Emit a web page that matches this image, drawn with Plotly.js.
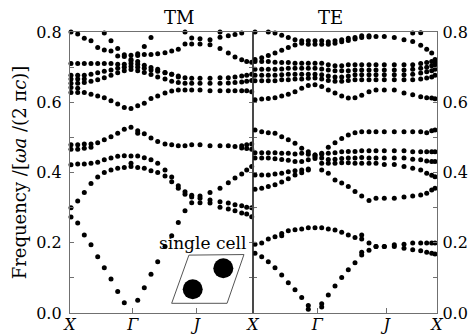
<!DOCTYPE html>
<html><head><meta charset="utf-8">
<script src="https://cdn.plot.ly/plotly-3.0.1.min.js"></script>
<style>html,body{margin:0;padding:0;background:#fff}#chart{width:470px;height:336px}</style>
</head><body><div id="chart"></div>
<script>
// k-path sample positions (path-length units) for each panel
const kTM = [1,7.7,14.3,21,27.7,34.3,41,47.7,54.3,61,67.7,74.3,81,87.7,95,101.7,108.3,115,121.7,130,140,150,158.3,165,171.7,176.7,181.7];
const kTE = [2,8.7,15.3,22,28.7,35.3,42,48.7,55.3,62,68.7,75.3,82,88.7,95.3,102,108.7,116,123,131.3,141.3,151,159.7,167.7,173.7,178.7,182];
// high-symmetry tick positions and labels
const tickPosTM = [0, 62.7, 126.7, 183];
const tickTextTM = ['X', 'Γ', 'J', 'X'];
const tickPosTE = [64.3, 133.7, 184];
const tickTextTE = ['Γ', 'J', 'X'];
const freqTicks = [0, 0.1, 0.2, 0.3, 0.4, 0.5, 0.6, 0.7, 0.8];
const freqLabels = ['0.0', '', '0.2', '', '0.4', '', '0.6', '', '0.8'];
const panelTitles = ['TM', 'TE'];
const insetLabel = 'single cell';

// TM bands (normalized frequency)
const tm1 = [0.273,0.256,0.222,0.194,0.160,0.129,0.097,0.061,0.029,null,0.036,0.072,0.110,0.146,0.189,0.220,0.258,0.291,0.314,0.314,0.313,0.301,0.296,0.291,0.285,0.282,0.274];
const tm2 = [0.300,0.319,0.343,0.369,0.387,0.400,0.407,0.412,0.414,0.417,0.414,0.412,0.405,0.400,0.390,0.374,0.355,0.338,0.330,0.327,0.322,0.317,0.313,0.308,0.305,0.301,0.300];
const tm3 = [0.422,0.424,0.424,0.426,0.429,0.436,0.441,0.446,0.448,0.447,0.447,0.442,0.436,0.426,0.407,0.387,0.362,0.345,0.335,0.333,0.343,0.355,0.371,0.384,0.396,0.407,0.417];
const tm4 = [0.479,0.479,0.481,0.481,0.485,0.493,0.502,0.512,0.523,0.529,0.519,0.510,0.498,0.488,0.481,0.479,0.476,0.476,0.479,0.479,0.476,0.476,0.476,0.474,0.476,0.479,0.481];
const tm4b = [0.466,0.466,0.469,0.472,null,null,null,null,null,0.426,0.512,null,null,null,null,null,null,null,null,null,null,null,null,null,0.470,0.468,0.466];
const tm5 = [0.628,0.628,0.628,0.623,0.618,0.613,0.604,0.595,0.585,0.582,0.590,0.597,0.611,0.618,0.626,0.632,0.635,0.635,0.635,0.635,0.633,0.633,0.633,0.633,0.633,0.633,0.630];
const tm6 = [0.654,0.654,0.656,0.660,0.664,0.670,0.677,0.684,0.690,0.693,0.690,0.685,0.679,0.672,0.666,0.660,0.656,0.654,0.654,0.654,0.654,0.654,0.655,0.656,0.658,0.660,0.662];
const tm7 = [0.677,0.677,0.677,0.680,0.684,0.688,0.692,0.697,0.700,0.702,0.700,0.697,0.692,0.688,0.684,0.680,0.675,0.670,0.668,0.668,0.668,0.670,0.670,0.672,0.675,0.677,0.680];
const tm8 = [0.710,0.710,0.710,0.710,0.710,0.710,0.710,0.708,0.708,0.710,0.708,0.705,0.699,0.694,0.685,0.680,0.672,null,null,null,null,null,null,null,null,null,null];
const tm9 = [0.800,0.794,0.782,0.775,0.756,0.749,0.746,0.732,0.730,0.734,0.733,0.736,0.736,0.738,0.741,0.746,0.751,0.766,0.766,0.766,0.764,0.753,0.740,0.729,0.721,0.716,0.714];
const tm10 = [null,null,null,null,null,0.797,0.775,0.753,0.735,0.722,0.716,null,null,null,null,null,null,null,null,null,null,null,null,null,null,null,null];
const tm11 = [null,null,null,null,null,null,null,null,null,0.718,0.738,0.759,0.784,null,null,null,null,0.800,0.783,0.781,0.778,0.785,0.789,0.793,0.797,0.801,0.805];
const tm12 = [0.666,0.666,0.666,null,null,null,null,null,null,null,null,null,null,null,null,null,null,null,null,null,null,0.800,0.806,null,null,null,null];
const tm13 = [0.642,0.640,null,null,null,null,null,null,null,null,null,null,null,null,null,null,null,null,null,null,null,null,null,null,null,null,null];

// TE bands (normalized frequency)
const te1 = [0.170,0.160,0.146,0.129,0.108,0.086,0.066,0.044,0.011,null,0.017,0.051,0.077,0.101,0.123,0.143,0.165,0.179,0.189,0.189,0.189,0.184,0.180,0.177,0.173,0.170,0.168];
const te1b = [null,null,null,null,null,null,null,null,0.021,null,0.026,null,null,null,null,null,0.173,null,null,null,null,null,null,null,null,null,null];
const te2 = [0.196,0.199,0.211,0.217,0.220,0.234,0.237,0.239,0.243,0.243,0.243,0.239,0.236,0.230,0.222,0.215,0.211,0.199,0.189,0.189,0.194,0.196,0.199,0.199,0.199,0.199,0.199];
const te2b = [null,null,null,null,0.226,null,null,null,null,null,null,null,null,null,null,null,0.222,null,null,null,null,null,null,null,null,null,null];
const te3 = [0.352,0.355,0.360,0.365,0.373,0.382,0.393,0.399,0.407,0.440,0.407,0.398,0.379,0.370,0.360,0.346,0.333,0.320,0.327,0.327,0.327,0.330,0.333,0.336,0.341,0.350,0.355];
const te4 = [0.393,0.393,0.393,0.396,0.398,0.402,0.405,0.407,0.410,null,0.426,0.426,0.426,0.428,0.428,0.426,0.426,0.426,0.426,0.423,0.423,0.417,0.412,0.407,0.398,0.392,0.388];
const te5 = [0.456,0.456,0.456,0.456,0.455,0.455,0.453,0.455,0.452,0.450,0.452,0.455,0.456,0.459,0.460,0.460,0.462,0.462,0.462,0.462,0.462,0.462,0.459,0.459,0.459,0.459,0.459];
const te6 = [0.441,0.441,0.441,0.439,0.437,0.435,0.431,0.431,0.436,0.445,0.441,0.437,0.438,0.440,0.441,0.441,0.443,0.441,0.441,0.441,0.441,0.441,0.438,0.436,0.433,0.431,0.431];
const te7 = [0.521,0.516,0.513,0.512,0.502,0.493,0.483,0.469,0.459,0.450,0.455,0.472,0.485,0.497,0.507,0.513,0.516,0.516,0.516,0.516,0.516,0.516,0.516,0.516,0.513,0.519,0.521];
const te8 = [0.607,0.609,0.611,0.613,0.618,0.623,0.630,0.640,0.648,0.650,0.645,0.635,0.626,0.618,0.612,0.613,0.620,0.630,0.635,0.635,0.635,0.626,0.621,0.616,0.613,0.612,0.610];
const te9 = [0.661,0.661,0.661,0.661,0.664,0.664,0.666,0.666,0.668,0.669,0.666,0.662,0.660,0.660,0.662,0.664,0.664,0.664,0.664,0.664,0.664,0.664,0.664,0.666,0.669,0.672,0.677];
const te10 = [0.677,0.677,0.677,0.677,0.678,0.680,0.680,0.680,0.680,0.680,0.678,0.675,0.672,0.672,0.675,0.678,0.678,0.678,0.678,0.678,0.678,0.678,0.680,0.683,0.687,0.690,0.694];
const te11 = [0.694,0.694,0.694,0.694,0.695,0.697,0.697,0.697,0.697,0.697,0.695,0.692,0.690,0.690,0.690,0.692,0.692,0.692,0.692,0.692,0.692,0.692,0.694,0.697,0.700,0.704,0.707];
const te12 = [0.716,0.716,0.716,0.714,0.713,0.713,0.711,0.711,0.711,0.711,0.711,0.707,0.704,0.704,0.707,0.707,0.707,0.707,0.707,0.707,0.707,0.707,0.707,0.710,0.713,0.716,0.716];
const te13 = [0.722,0.727,0.733,0.740,0.748,0.756,0.763,0.768,0.765,0.765,0.765,0.765,0.768,0.772,0.776,0.780,0.784,0.786,null,null,null,null,null,null,null,null,null];
const te14 = [0.800,0.806,0.800,0.797,0.791,0.784,0.778,0.775,0.775,0.775,0.775,0.772,0.775,0.778,0.782,0.784,0.789,0.789,0.787,0.787,0.784,0.778,0.773,0.762,0.751,0.740,0.722];
const te15 = [null,null,null,null,null,null,null,null,null,null,null,null,null,null,null,null,null,null,null,null,null,null,0.797,0.798,0.801,0.804,0.806];

const bandsTM = [tm1,tm2,tm3,tm4,tm4b,tm5,tm6,tm7,tm8,tm9,tm10,tm11,tm12,tm13];
const bandsTE = [te1,te1b,te2,te2b,te3,te4,te5,te6,te7,te8,te9,te10,te11,te12,te13,te14,te15];

const SERIF = 'DejaVu Serif';
const mk = {size: 5, color: '#000'};
const traces = [];
bandsTM.forEach(b => traces.push({type:'scatter', mode:'markers', x:kTM, y:b, xaxis:'x', yaxis:'y', marker:mk, cliponaxis:false, showlegend:false, hoverinfo:'skip'}));
bandsTE.forEach(b => traces.push({type:'scatter', mode:'markers', x:kTE, y:b, xaxis:'x2', yaxis:'y2', marker:mk, cliponaxis:false, showlegend:false, hoverinfo:'skip'}));

const split = 183 / 367;
const axLine = '#707070';
const xCommon = {showline:true, linecolor:axLine, linewidth:1.2, mirror:true, ticks:'inside', ticklen:5, tickcolor:axLine,
  showgrid:false, zeroline:false, tickfont:{family:SERIF, size:16, color:'#000'}, ticklabelstandoff:-3};
const yCommon = {range:[0,0.8], tickvals:freqTicks, ticktext:freqLabels, showline:true, linecolor:axLine, linewidth:1.2,
  mirror:'ticks', ticks:'inside', ticklen:4, tickcolor:axLine, showgrid:false, zeroline:false,
  tickfont:{family:SERIF, size:16, color:'#000'}};

const layout = {
  width:470, height:336,
  margin:{l:70, r:33, t:32, b:23},
  paper_bgcolor:'#fff', plot_bgcolor:'#fff',
  font:{family:SERIF, color:'#000', size:16},
  showlegend:false,
  xaxis: Object.assign({}, xCommon, {domain:[0, split], range:[0,183], anchor:'y', tickvals:tickPosTM, ticktext:tickTextTM.map(t => '<i>' + t + '</i>')}),
  xaxis2: Object.assign({}, xCommon, {domain:[split, 1], range:[0,184], anchor:'y2', tickvals:tickPosTE, ticktext:tickTextTE.map(t => '<i>' + t + '</i>')}),
  yaxis: Object.assign({}, yCommon, {anchor:'x', side:'left', ticklabelstandoff:4,
    title:{text:'Frequency /[<i>ωa</i> /(2 π<i>c</i>)]', font:{family:SERIF, size:18, color:'#000'}, standoff:4}}),
  yaxis2: Object.assign({}, yCommon, {anchor:'x2', side:'right', ticklabelstandoff:1}),
  annotations:[
    {text:panelTitles[0], xref:'paper', yref:'paper', x:split/2, y:1, yanchor:'bottom', yshift:2, showarrow:false, font:{family:SERIF, size:18, color:'#000'}},
    {text:panelTitles[1], xref:'paper', yref:'paper', x:(1+split)/2, y:1, yanchor:'bottom', yshift:2, showarrow:false, font:{family:SERIF, size:18, color:'#000'}},
    {text:insetLabel, xref:'paper', yref:'paper', x:0.362, y:0.249, xanchor:'center', yanchor:'middle', showarrow:false, font:{family:SERIF, size:17, color:'#000'}}
  ],
  shapes:[
    {type:'line', xref:'paper', yref:'paper', x0:split, x1:split, y0:0, y1:1, line:{color:'#222', width:1}},
    {type:'path', xref:'paper', yref:'paper', path:'M 0.324,0.206 L 0.474,0.208 L 0.428,0.0345 L 0.277,0.0345 Z', line:{color:'#555', width:1}, fillcolor:'rgba(0,0,0,0)'},
    {type:'circle', xref:'paper', yref:'paper', x0:0.3071, x1:0.3616, y0:0.0488, y1:0.1199, fillcolor:'#000', line:{color:'#000', width:0}},
    {type:'circle', xref:'paper', yref:'paper', x0:0.3905, x1:0.4450, y0:0.1235, y1:0.1947, fillcolor:'#000', line:{color:'#000', width:0}}
  ]
};

Plotly.newPlot('chart', traces, layout, {staticPlot:true, displayModeBar:false});
</script>
</body></html>
